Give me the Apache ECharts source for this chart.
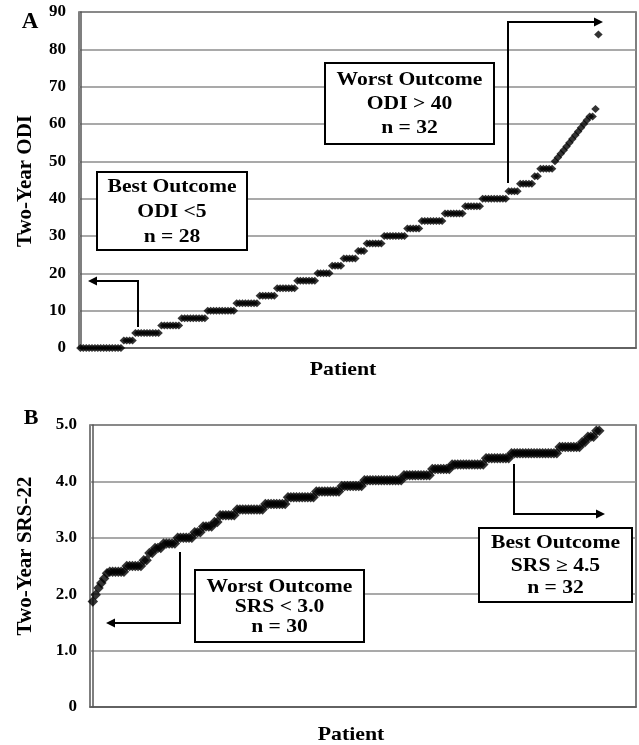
<!DOCTYPE html>
<html><head><meta charset="utf-8">
<script src="https://cdn.jsdelivr.net/npm/echarts@6/dist/echarts.min.js"></script>
<style>html,body{margin:0;padding:0;background:#fff}#c{width:639px;height:745px}</style>
</head><body><div id="c"></div>
<script>
// Panel A: two-year ODI per patient, sorted
const odiValues = [
  0,0,0,0,0,0,0,0,0,0,0,0,0,0,0,
  2,2,2,2,
  4,4,4,4,4,4,4,4,4,
  6,6,6,6,6,6,6,
  8,8,8,8,8,8,8,8,8,
  10,10,10,10,10,10,10,10,10,10,
  12,12,12,12,12,12,12,12,
  14,14,14,14,14,14,
  16,16,16,16,16,16,16,
  18,18,18,18,18,18,18,
  20,20,20,20,20,
  22,22,22,22,
  24,24,24,24,24,
  26,26,26,
  28,28,28,28,28,28,
  30,30,30,30,30,30,30,30,
  32,32,32,32,32,
  34,34,34,34,34,34,34,34,
  36,36,36,36,36,36,36,
  38,38,38,38,38,38,
  40,40,40,40,40,40,40,40,40,
  42,42,42,42,
  44,44,44,44,44,
  46,46,
  48,48,48,48,48,
  50,51,52,53,54,55,56,57,58,59,60,61,62,62,64,
  84
];
// Panel B: two-year SRS-22 per patient, sorted
const srsValues = [
  1.87,1.99,2.11,2.2,2.28,2.37,
  2.4,2.4,2.4,2.4,2.4,2.4,
  2.5,2.5,2.5,2.5,2.5,2.5,
  2.6,2.6,
  2.73,2.73,
  2.82,2.82,2.82,
  2.9,2.9,2.9,2.9,2.9,
  3.0,3.0,3.0,3.0,3.0,3.0,
  3.1,3.1,3.1,
  3.2,3.2,3.2,3.2,
  3.28,3.28,
  3.4,3.4,3.4,3.4,3.4,3.4,
  3.5,3.5,3.5,3.5,3.5,3.5,3.5,3.5,3.5,3.5,
  3.6,3.6,3.6,3.6,3.6,3.6,3.6,3.6,
  3.72,3.72,3.72,3.72,3.72,3.72,3.72,3.72,3.72,3.72,
  3.82,3.82,3.82,3.82,3.82,3.82,3.82,3.82,3.82,
  3.92,3.92,3.92,3.92,3.92,3.92,3.92,3.92,
  4.02,4.02,4.02,4.02,4.02,4.02,4.02,4.02,4.02,4.02,4.02,4.02,4.02,4.02,
  4.11,4.11,4.11,4.11,4.11,4.11,4.11,4.11,4.11,4.11,
  4.22,4.22,4.22,4.22,4.22,4.22,4.22,
  4.3,4.3,4.3,4.3,4.3,4.3,4.3,4.3,4.3,4.3,4.3,4.3,
  4.41,4.41,4.41,4.41,4.41,4.41,4.41,4.41,4.41,
  4.5,4.5,4.5,4.5,4.5,4.5,4.5,4.5,4.5,4.5,4.5,4.5,4.5,4.5,4.5,4.5,4.5,
  4.61,4.61,4.61,4.61,4.61,4.61,4.61,4.61,
  4.7,4.7,
  4.79,4.79,4.79,
  4.9,4.9
];
const odiTicks = [0,10,20,30,40,50,60,70,80,90];
const srsTicks = ['0','1.0','2.0','3.0','4.0','5.0'];
const panelLabels = ['A','B'];
const yTitles = ['Two-Year ODI','Two-Year SRS-22'];
const xTitle = 'Patient';
const boxTexts = [
  'Best Outcome\nODI <5\nn = 28',
  'Worst Outcome\nODI > 40\nn = 32',
  'Worst Outcome\nSRS < 3.0\nn = 30',
  'Best Outcome\nSRS \u2265 4.5\nn = 32'
];

const FONT = '"Liberation Serif","Times New Roman",serif';
const chart = echarts.init(document.getElementById('c'), null, {renderer:'canvas'});

function tickLabel(){return {color:'#000',fontFamily:FONT,fontWeight:'bold',fontSize:17};}

function box(cx, cy, w, h, text, lh){
  return [
    {type:'rect', shape:{x:cx-w/2,y:cy-h/2,width:w,height:h}, style:{fill:'#fff',stroke:'#000',lineWidth:2}, z:10},
    {type:'text', x:cx, y:cy+1, scaleX:1.2, z:11,
     style:{text:text, fill:'#000', font:'bold 18px '+FONT, textAlign:'center', textVerticalAlign:'middle', lineHeight:lh}}
  ];
}
function arrow(pts, dir){
  const last = pts[pts.length-1];
  const L = 9, W = 4.5;
  let head;
  if(dir==='left') head=[[last[0]-L,last[1]],[last[0],last[1]-W],[last[0],last[1]+W]];
  else head=[[last[0]+L,last[1]],[last[0],last[1]-W],[last[0],last[1]+W]];
  return [
    {type:'polyline', shape:{points:pts}, style:{stroke:'#000',lineWidth:2,fill:null}, z:10},
    {type:'polygon', shape:{points:head}, style:{fill:'#000'}, z:10}
  ];
}
function txt(x,y,text,size,opts){
  return Object.assign({type:'text', x:x, y:y, z:11,
    style:{text:text, fill:'#000', font:'bold '+size+'px '+FONT, textAlign:'center', textVerticalAlign:'middle'}}, opts||{});
}

const graphics = [].concat(
  [txt(30,22,panelLabels[0],23), txt(31,418,panelLabels[1],22)],
  [txt(26,181,yTitles[0],21,{rotation:Math.PI/2}), txt(26,556,yTitles[1],21,{rotation:Math.PI/2})],
  [txt(343,370,xTitle,19,{scaleX:1.15}), txt(351,735,xTitle,19,{scaleX:1.15})],
  box(172,211,150,78,boxTexts[0],25),
  box(409.5,103.5,169,81,boxTexts[1],24),
  box(279.5,606,169,72,boxTexts[2],20),
  box(555.5,565,153,74,boxTexts[3],22.5),
  arrow([[138,327],[138,281],[97,281]],'left'),
  arrow([[508,183],[508,22],[594,22]],'right'),
  arrow([[180,552],[180,623],[115,623]],'left'),
  arrow([[514,464],[514,514],[596,514]],'right')
);

const option = {
  backgroundColor:'#fff',
  animation:false,
  grid:[
    {left:79, top:12, width:557, height:336, show:true, borderColor:'#555', borderWidth:1.5},
    {left:90, top:425, width:546, height:282, show:true, borderColor:'#555', borderWidth:1.5}
  ],
  xAxis:[
    {gridIndex:0, type:'value', min:-0.5, max:192, axisLabel:{show:false}, axisTick:{show:false}, splitLine:{show:false}, axisLine:{lineStyle:{color:'#555',width:1.5}}},
    {gridIndex:1, type:'value', min:-1, max:192, axisLabel:{show:false}, axisTick:{show:false}, splitLine:{show:false}, axisLine:{lineStyle:{color:'#555',width:1.5}}}
  ],
  yAxis:[
    {gridIndex:0, type:'value', min:odiTicks[0], max:odiTicks[odiTicks.length-1], interval:10,
     axisLabel:Object.assign(tickLabel(),{margin:13}), axisTick:{show:false},
     axisLine:{show:true,lineStyle:{color:'#555',width:1.5}},
     splitLine:{lineStyle:{color:'#8c8c8c',width:1.5}}},
    {gridIndex:1, type:'value', min:0, max:5, interval:1,
     axisLabel:Object.assign(tickLabel(),{margin:13, formatter:function(v){return srsTicks[Math.round(v)];}}), axisTick:{show:false},
     axisLine:{show:true,lineStyle:{color:'#555',width:1.5}},
     splitLine:{lineStyle:{color:'#8c8c8c',width:1.5}}}
  ],
  series:[
    {type:'scatter', xAxisIndex:0, yAxisIndex:0, symbol:'diamond', symbolSize:[8.5,8],
     itemStyle:{color:'#000'}, data:odiValues.map(function(v,i){return [i,v];}), z:5},
    {type:'scatter', xAxisIndex:1, yAxisIndex:1, symbol:'diamond', symbolSize:[10.5,10.5],
     itemStyle:{color:'#000'}, data:srsValues.map(function(v,i){return [i,v];}), z:5}
  ],
  graphic: graphics
};
chart.setOption(option);
</script>
</body></html>
